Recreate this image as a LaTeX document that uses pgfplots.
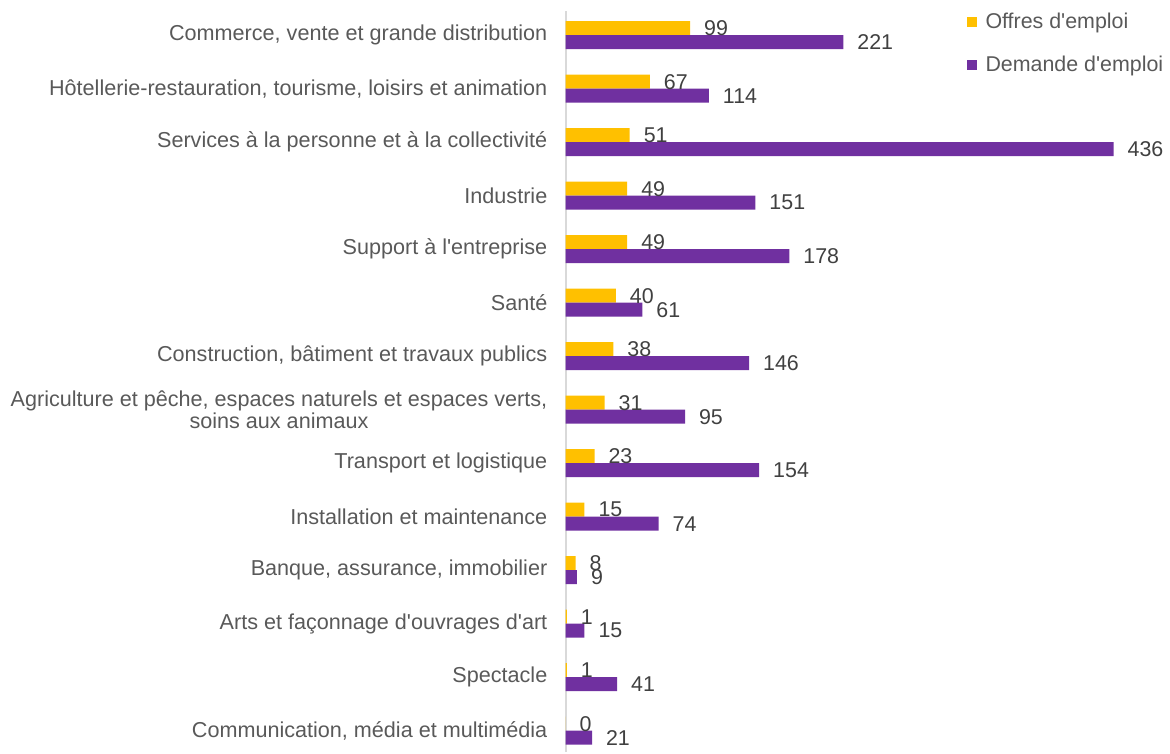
\documentclass[border=0pt]{standalone}
\usepackage{pgfplots}
\pgfplotsset{compat=1.18}
\usepackage{fontspec}
\setmainfont{Liberation Sans}
\definecolor{offres}{HTML}{FFC000}
\definecolor{demande}{HTML}{7030A0}
\definecolor{txt}{HTML}{595959}
\definecolor{lbl}{HTML}{404040}
\definecolor{axisgray}{HTML}{D9D9D9}
\newcommand{\q}{\textquotesingle}
\pgfplotsset{sqlegend/.style={legend image code/.code={\fill[##1] (0pt,-2.6pt) rectangle (5.2pt,2.6pt); \path (7.5pt,0pt);}}}
\begin{document}
\begin{tikzpicture}
\begin{axis}[
    xbar, bar width=7pt,
    scale only axis, width=274pt, height=370.5pt,
    xmin=0, xmax=436, ymin=-0.45, ymax=13.4,
    y dir=reverse,
    axis x line=none, axis y line=left,
    y axis line style={-, draw=axisgray, line width=1pt},
    ytick={0,...,13},
    yticklabels={{Commerce, vente et grande distribution},
        {Hôtellerie-restauration, tourisme, loisirs et animation},
        {Services à la personne et à la collectivité},
        {Industrie},
        {Support à l\q entreprise},
        {Santé},
        {Construction, bâtiment et travaux publics},
        {Agriculture et pêche, espaces naturels et espaces verts,\\ soins aux animaux},
        {Transport et logistique},
        {Installation et maintenance},
        {Banque, assurance, immobilier},
        {Arts et façonnage d\q ouvrages d\q art},
        {Spectacle},
        {Communication, média et multimédia}},
    ytick style={draw=none},
    yticklabel style={align=center, text=txt, font=\fontsize{10.8}{11}\selectfont, xshift=-3.5pt},
    clip=false,
    point meta=x,
    /pgf/number format/assume math mode=true,
    nodes near coords,
    nodes near coords style={font=\fontsize{10.7}{11}\selectfont, text=lbl, anchor=west, xshift=3.5pt},
    legend style={draw=none, fill=none, inner sep=0pt, outer sep=0pt,
        at={(axis cs:319,-0.49)}, anchor=north west,
        font=\fontsize{10.7}{11}\selectfont, text=txt, row sep=8pt},
    legend cell align=left,
]
% Offres d'emploi
\addplot[fill=offres, draw=none, bar shift=3.5pt, sqlegend] coordinates {
    (99,0) (67,1) (51,2) (49,3) (49,4) (40,5) (38,6)
    (31,7) (23,8) (15,9) (8,10) (1,11) (1,12) (0,13) };
% Demande d'emploi
\addplot[fill=demande, draw=none, bar shift=-3.5pt, sqlegend] coordinates {
    (221,0) (114,1) (436,2) (151,3) (178,4) (61,5) (146,6)
    (95,7) (154,8) (74,9) (9,10) (15,11) (41,12) (21,13) };
\legend{Offres d\q emploi, Demande d\q emploi}
\end{axis}
% white margins as in the reference
\coordinate (sw) at (current bounding box.south west);
\coordinate (ne) at (current bounding box.north east);
\path ([shift={(-2pt,0pt)}]sw) rectangle ([shift={(0pt,4.5pt)}]ne);
\end{tikzpicture}
\end{document}
